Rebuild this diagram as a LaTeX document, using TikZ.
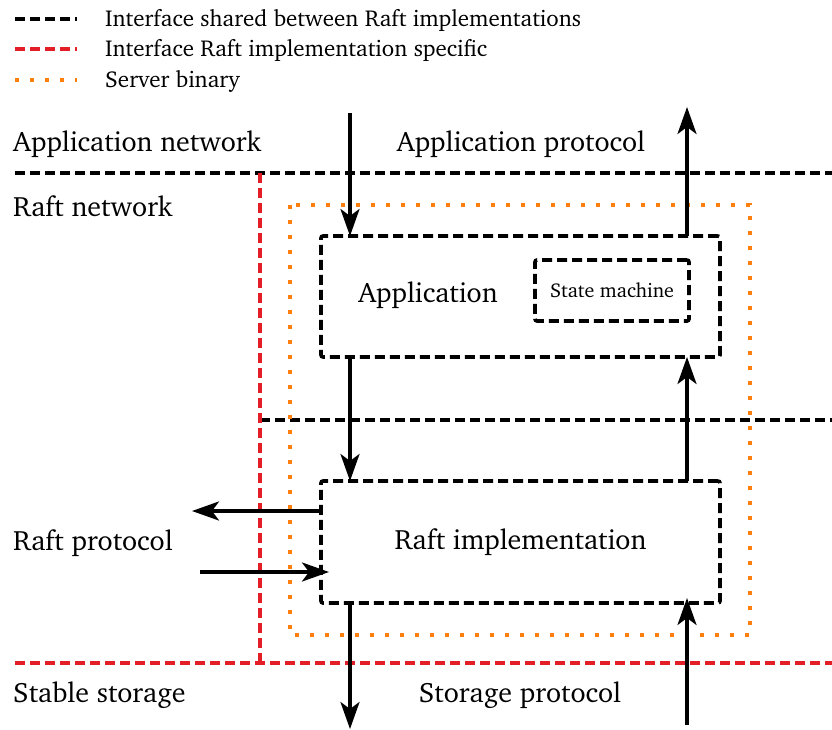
\documentclass[tikz,border=0pt]{standalone}
\usepackage[T1]{fontenc}
\usepackage{charter}
\usetikzlibrary{arrows.meta}
\definecolor{ifred}{RGB}{228,30,38}
\definecolor{binorange}{RGB}{255,127,14}

\begin{document}
\begin{tikzpicture}[x=1pt,y=-1pt,
  shared/.style={line width=3.6pt, dash pattern=on 10pt off 5pt, black},
  specific/.style={line width=3.6pt, dash pattern=on 10pt off 5pt, ifred},
  binary/.style={line width=3.6pt, dash pattern=on 3.6pt off 11.4pt, binorange},
  compbox/.style={draw, shared, rounded corners=2pt, inner sep=0pt, outer sep=0pt},
  flow/.style={line width=3.4pt, -{Stealth[length=27pt,width=19pt,inset=7pt]}},
  lbl/.style={font=\fontsize{28}{32}\selectfont, inner sep=0pt},
  legtext/.style={font=\fontsize{23}{27}\selectfont, inner sep=0pt, anchor=base west},
  smalltext/.style={font=\fontsize{20}{24}\selectfont, inner sep=0pt}]

  \useasboundingbox (0,0) rectangle (832,729);

  % legend
  \draw[shared]   (15,19) -- (77,19);
  \draw[specific] (15,49) -- (77,49);
  \draw[binary]   (15,80) -- (77,80);
  \node[legtext] (leg1) at (105,26) {Interface shared between Raft implementations};
  \node[legtext] (leg2) at (105,56) {Interface Raft implementation specific};
  \node[legtext] (leg3) at (105,87) {Server binary};

  % interface layers
  \draw[shared]   (15,173) -- (832,173);
  \draw[shared]   (260,420) -- (832,420);
  \draw[specific] (260,173) -- (260,663);
  \draw[specific] (15,663) -- (832,663);

  % server binary outline
  \draw[binary] (290,205) rectangle (750,635);

  % components
  \node[compbox, minimum width=399pt, minimum height=121pt] (app) at (520.5,296.5) {};
  \node[lbl] (apptext) at (428,295) {Application};
  \node[compbox, minimum width=154pt, minimum height=61pt, smalltext] (sm) at (612,290.5) {State machine};
  \node[compbox, minimum width=399pt, minimum height=122pt, lbl] (raft) at (520.5,542) {Raft implementation};

  % side labels
  \node[lbl, anchor=base west] (appnet)  at (13,151) {Application network};
  \node[lbl, anchor=base]      (appprot) at (521,151) {Application protocol};
  \node[lbl, anchor=base west] (raftnet) at (13,216) {Raft network};
  \node[lbl, anchor=base west] (raftprot) at (13,550) {Raft protocol};
  \node[lbl, anchor=base west] (stable)  at (13,702) {Stable storage};
  \node[lbl, anchor=base]      (stprot)  at (520,702) {Storage protocol};

  % free ends of the connectors
  \coordinate (appin)  at (350,113);
  \coordinate (appout) at (687,107);
  \coordinate (rpout)  at (192,511);
  \coordinate (rpin)   at (200,572);
  \coordinate (stout)  at (350,729);
  \coordinate (stin)   at (687,725);

  % connectors
  \draw[flow] (appin) -- (appin |- app.north);
  \draw[flow] (appout |- app.north) -- (appout);
  \draw[flow] (appin |- app.south) -- (appin |- raft.north);
  \draw[flow] (appout |- raft.north) -- (appout |- app.south);
  \draw[flow] (rpout -| raft.west) -- (rpout);
  \draw[flow, shorten >=-8pt] (rpin) -- (rpin -| raft.west);
  \draw[flow] (stout |- raft.south) -- (stout);
  \draw[flow, shorten >=-5pt] (stin) -- (stin |- raft.south);
\end{tikzpicture}
\end{document}
